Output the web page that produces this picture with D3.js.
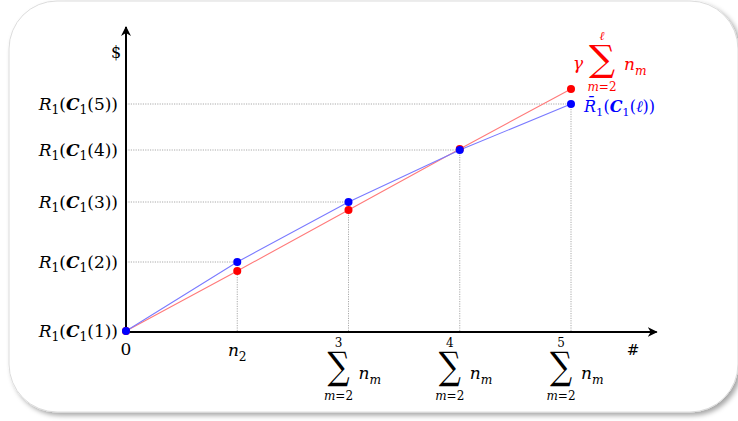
<!DOCTYPE html>
<html><head><meta charset="utf-8">
<script src="https://cdn.jsdelivr.net/npm/d3@7"></script>
<style>html,body{margin:0;padding:0;background:#fff;}svg{display:block;}</style>
</head><body>
<script>
// ---- data ----
const xIndex = [0, 1, 2, 3, 4];
const xTickKinds = ["zero", "n2", "sum", "sum", "sum"];
const xSumUpper = [null, null, "3", "4", "5"];
const blueValues = [0, 0.69, 1.29, 1.81, 2.27];   // R̄1(C1(ℓ))
const redValues  = [0, 0.60, 1.21, 1.82, 2.42];   // γ Σ n_m
const yTickLabels = ["1", "2", "3", "4", "5"];

const W = 738, H = 421;
const svg = d3.select("body").append("svg").attr("width", W).attr("height", H);
const defs = svg.append("defs");
const f = defs.append("filter").attr("id", "sh").attr("x", "-5%").attr("y", "-5%").attr("width", "115%").attr("height", "115%");
f.append("feDropShadow").attr("dx", 3).attr("dy", 3).attr("stdDeviation", 2.5).attr("flood-color", "#000").attr("flood-opacity", 0.35);

svg.append("rect").attr("x", 9).attr("y", 1).attr("width", 729).attr("height", 411)
  .attr("rx", 48).attr("fill", "#fff").attr("stroke", "#dcdcdc").attr("stroke-width", 1)
  .attr("filter", "url(#sh)");

const x = d3.scaleLinear().domain([0, 4]).range([126, 571]);
const y = d3.scaleLinear().domain([0, 3]).range([331, 31]);

const FONT = "DejaVu Serif";
const g = svg.append("g");

// grid
const grid = g.append("g").attr("stroke", "#aaa").attr("stroke-width", 1).attr("stroke-dasharray", "1.2,1.2");
xIndex.slice(1).forEach(i => {
  grid.append("line").attr("x1", x(0)).attr("x2", x(i)).attr("y1", y(blueValues[i])).attr("y2", y(blueValues[i]));
  grid.append("line").attr("x1", x(i)).attr("x2", x(i)).attr("y1", y(0)).attr("y2", y(blueValues[i]));
});

// axes
defs.append("marker").attr("id", "arr").attr("viewBox", "0 0 10 10").attr("refX", 9).attr("refY", 5)
  .attr("markerWidth", 5).attr("markerHeight", 5).attr("orient", "auto")
  .append("path").attr("d", "M0,0 L10,5 L0,10 L3,5 Z").attr("fill", "#000");
g.append("line").attr("x1", x(0)).attr("x2", x(4.77)).attr("y1", y(0) + 1).attr("y2", y(0) + 1)
  .attr("stroke", "#000").attr("stroke-width", 2).attr("marker-end", "url(#arr)");
g.append("line").attr("x1", x(0)).attr("x2", x(0)).attr("y1", y(0) + 2).attr("y2", y(3.04))
  .attr("stroke", "#000").attr("stroke-width", 2).attr("marker-end", "url(#arr)");

// lines
const line = d3.line().x((d, i) => x(xIndex[i])).y(d => y(d));
g.append("path").datum(redValues).attr("d", line).attr("fill", "none").attr("stroke", "#ff7a7a").attr("stroke-width", 1.1);
g.append("path").datum(blueValues).attr("d", line).attr("fill", "none").attr("stroke", "#7a7aff").attr("stroke-width", 1.1);
g.selectAll(".rd").data(redValues).join("circle").attr("cx", (d, i) => x(xIndex[i])).attr("cy", d => y(d)).attr("r", 4).attr("fill", "#f00");
g.selectAll(".bd").data(blueValues).join("circle").attr("cx", (d, i) => x(xIndex[i])).attr("cy", d => y(d)).attr("r", 4).attr("fill", "#00f");

// rich text helper
function rich(parent, px, py, parts, fs, anchor, color) {
  const t = parent.append("text").attr("x", px).attr("y", py).attr("font-family", FONT)
    .attr("font-size", fs).attr("text-anchor", anchor || "start").attr("fill", color || "#000");
  let shift = 0;
  parts.forEach(p => {
    const target = p.sub ? fs * 0.28 : p.sup ? -fs * 0.4 : 0;
    const ts = t.append("tspan").text(p.t).attr("dy", target - shift);
    shift = target;
    if (p.sub || p.sup) ts.attr("font-size", fs * 0.72);
    if (p.i) ts.attr("font-style", "italic");
    if (p.b) ts.attr("font-weight", "bold");
  });
  return t;
}

// fit a glyph's ink box into (x0, y0, w, h) using canvas ink metrics
const ctx = document.createElement("canvas").getContext("2d");
function fitGlyph(parent, ch, x0, y0, w, h, color) {
  ctx.font = `100px "${FONT}"`;
  const m = ctx.measureText(ch);
  const asc = m.actualBoundingBoxAscent, desc = m.actualBoundingBoxDescent;
  const L = m.actualBoundingBoxLeft, R = m.actualBoundingBoxRight;
  const k = h / (asc + desc);
  const sx = w / ((L + R) * k);
  parent.append("text").attr("transform", `translate(${x0},${y0}) scale(${sx},1)`)
    .attr("x", L * k).attr("y", asc * k).attr("font-family", FONT).attr("font-size", 100 * k)
    .attr("fill", color || "#000").text(ch);
}

// y tick labels
yTickLabels.forEach((lab, i) => {
  rich(g, 118, y(blueValues[i]) + 5.5, [
    {t: "R", i: true}, {t: "1", sub: true}, {t: "("}, {t: "C", i: true, b: true}, {t: "1", sub: true}, {t: "(" + lab + "))"}
  ], 17, "end");
});
g.append("text").attr("x", 116).attr("y", 58).attr("text-anchor", "middle").attr("font-family", FONT).attr("font-size", 16).text("$");

// sum label: cx = centre of the Σ, top/h = ink box of Σ
function sumLabel(parent, cx, top, w, h, upper, color, nBase) {
  const c = color || "#000";
  fitGlyph(parent, "\u2211", cx - w / 2, top, w, h, c);
  parent.append("text").attr("x", cx).attr("y", top - 5).attr("text-anchor", "middle").attr("font-family", FONT)
    .attr("font-size", 12).attr("fill", c).attr("font-style", upper === "\u2113" ? "italic" : "normal").text(upper);
  rich(parent, cx, top + h + 13, [{t: "m", i: true}, {t: "=2"}], 12, "middle", c);
  rich(parent, cx + w / 2 + 9, nBase, [{t: "n", i: true}, {t: "m", i: true, sub: true}], 17, "start", c);
}

// x tick labels
xIndex.forEach(i => {
  const k = xTickKinds[i];
  if (k === "zero") g.append("text").attr("x", x(i)).attr("y", 355).attr("text-anchor", "middle").attr("font-family", FONT).attr("font-size", 17).text("0");
  else if (k === "n2") rich(g, x(i), 356, [{t: "n", i: true}, {t: "2", sub: true}], 17, "middle");
  else sumLabel(g, x(i) - 10, 352, 22, 35, xSumUpper[i], "#000", 379);
});
g.append("text").attr("x", 633).attr("y", 355).attr("text-anchor", "middle").attr("font-family", FONT).attr("font-size", 15).text("#");

// legend labels
const red = "#ff0000", blue = "#0000ff";
rich(g, 578, 69, [{t: "\u03B3", i: true}], 17, "middle", red);
sumLabel(g, 602, 45, 26, 33, "\u2113", red, 70);
rich(g, 584, 112, [
  {t: "R\u0304", i: true}, {t: "1", sub: true}, {t: "("}, {t: "C", i: true, b: true}, {t: "1", sub: true}, {t: "("}, {t: "\u2113", i: true}, {t: "))"}
], 16, "start", blue);
</script>
</body></html>
